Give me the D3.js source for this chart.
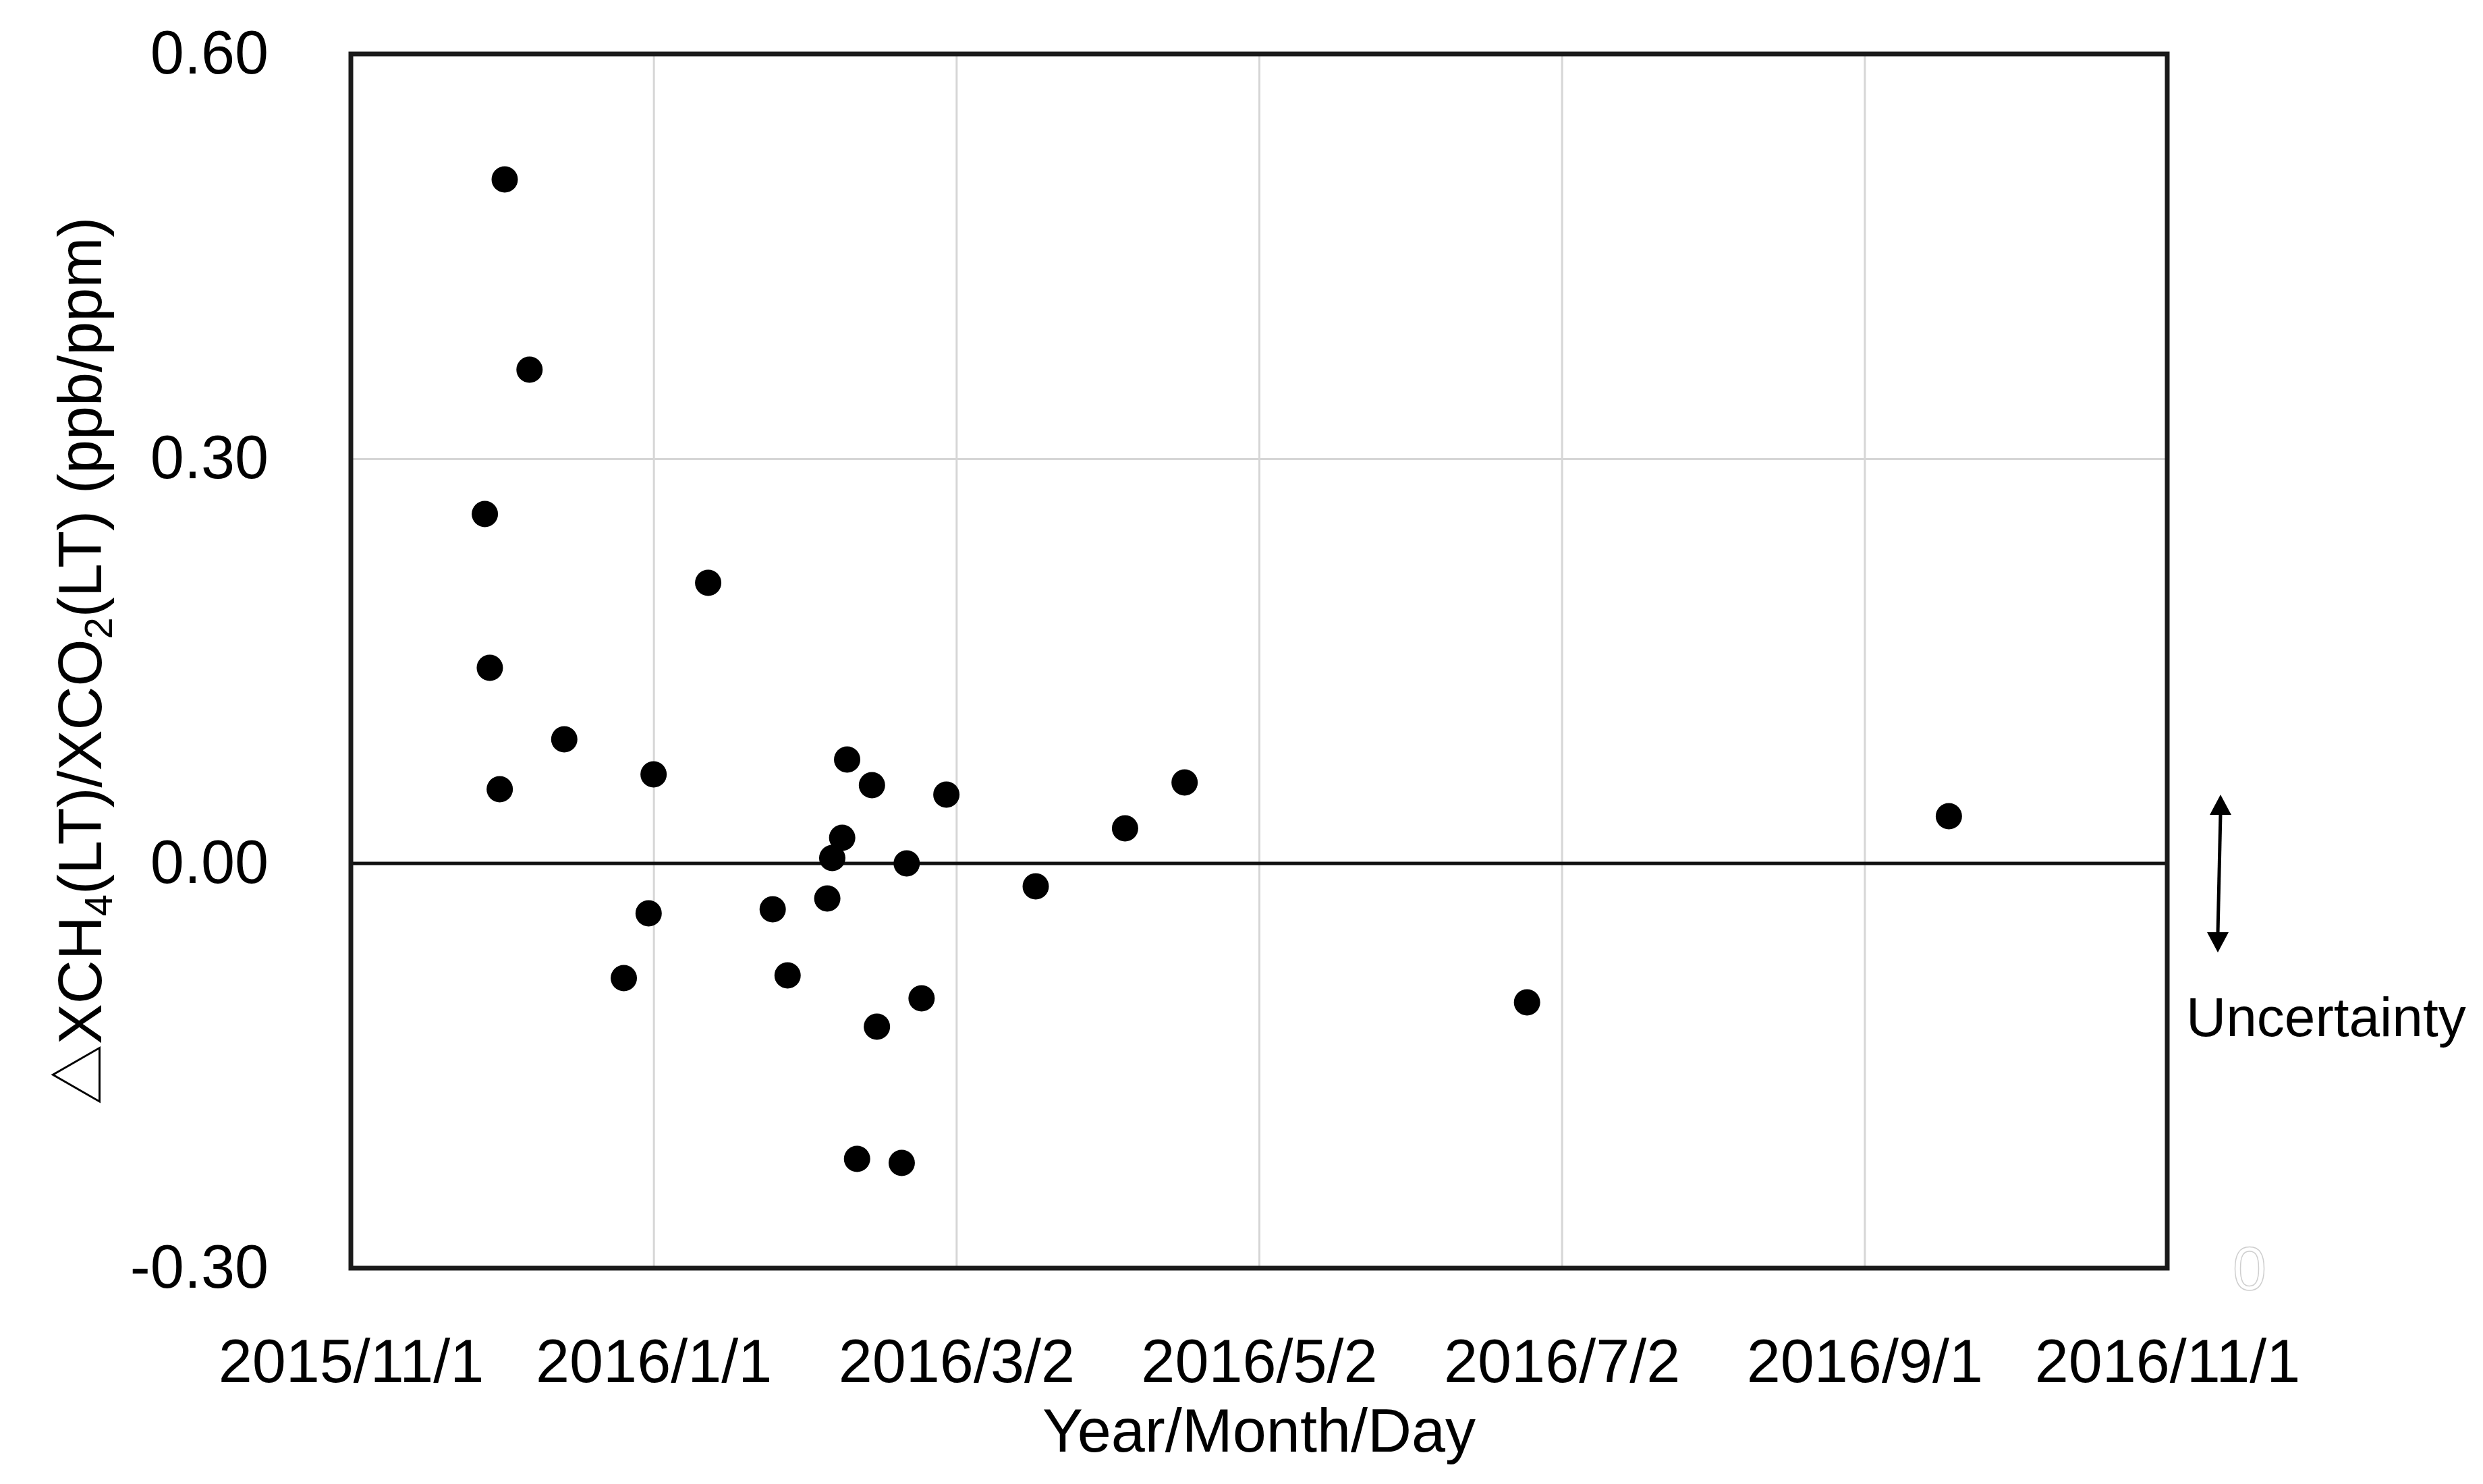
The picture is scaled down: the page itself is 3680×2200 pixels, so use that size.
<!DOCTYPE html>
<html>
<head>
<meta charset="utf-8">
<script src="https://cdnjs.cloudflare.com/ajax/libs/d3/7.8.5/d3.min.js"></script>
<style>
  body { margin: 0; background: #fff; }
  svg text { font-family: "Liberation Sans", Arial, sans-serif; fill: #000; }
</style>
</head>
<body>
<svg></svg>
<script>
var dates = ["2015-11-28","2015-11-29","2015-12-01","2015-12-02","2015-12-07","2015-12-14",
  "2015-12-26","2015-12-31","2016-01-01","2016-01-12","2016-01-25","2016-01-28",
  "2016-02-05","2016-02-06","2016-02-08","2016-02-09","2016-02-11","2016-02-14",
  "2016-02-15","2016-02-20","2016-02-21","2016-02-24","2016-02-29","2016-03-18",
  "2016-04-05","2016-04-17","2016-06-25","2016-09-18"];
var ratios = [0.259, 0.145, 0.055, 0.507, 0.366, 0.092,
  -0.085, -0.037, 0.066, 0.208, -0.034, -0.083,
  -0.026, 0.004, 0.019, 0.077, -0.219, 0.058,
  -0.121, -0.222, 0.000, -0.100, 0.051, -0.017,
  0.026, 0.060, -0.103, 0.035];

var xTicks = ["2015-11-01","2016-01-01","2016-03-02","2016-05-02","2016-07-02","2016-09-01","2016-11-01"];
var yTicks = [-0.30, 0.00, 0.30, 0.60];
var uncertainty = [0.051, -0.066];

var width = 3680, height = 2200;
// plot box (window.top is read-only, so no bare "top" here)
var plotL = 520, plotR = 3212, plotT = 80, plotB = 1880;

var parse = d3.utcParse("%Y-%m-%d");
var fmt = d3.utcFormat("%Y/%-m/%-d");

var svg = d3.select("svg")
  .attr("width", width)
  .attr("height", height);

var x = d3.scaleUtc()
  .domain([parse(xTicks[0]), parse(xTicks[xTicks.length - 1])])
  .range([plotL, plotR]);

var y = d3.scaleLinear()
  .domain([yTicks[0], yTicks[yTicks.length - 1]])
  .range([plotB, plotT]);

var points = dates.map(function(d, i) { return {date: parse(d), value: ratios[i]}; });

// gridlines
svg.append("g")
  .attr("transform", "translate(0," + plotB + ")")
  .call(d3.axisBottom(x).tickValues(xTicks.map(parse)).tickSize(-(plotB - plotT)).tickFormat(""))
  .call(function(g) { g.select(".domain").remove(); })
  .selectAll("line").attr("stroke", "#d6d6d6").attr("stroke-width", 3);

svg.append("g")
  .attr("transform", "translate(" + plotL + ",0)")
  .call(d3.axisLeft(y).tickValues(yTicks).tickSize(-(plotR - plotL)).tickFormat(""))
  .call(function(g) { g.select(".domain").remove(); })
  .selectAll("line").attr("stroke", "#d6d6d6").attr("stroke-width", 3);

// zero line
svg.append("line")
  .attr("x1", plotL).attr("x2", plotR)
  .attr("y1", y(0)).attr("y2", y(0))
  .attr("stroke", "#111").attr("stroke-width", 5);

// tick labels
var xAxis = svg.append("g")
  .attr("transform", "translate(0," + plotB + ")")
  .call(d3.axisBottom(x).tickValues(xTicks.map(parse)).tickSize(0).tickPadding(105).tickFormat(fmt));
xAxis.select(".domain").remove();
xAxis.selectAll("text").attr("font-size", 90).attr("font-family", null);

var yAxis = svg.append("g")
  .attr("transform", "translate(" + plotL + ",0)")
  .call(d3.axisLeft(y).tickValues(yTicks).tickSize(0).tickPadding(122)
    .tickFormat(function(d) { return d.toFixed(2); }));
yAxis.select(".domain").remove();
yAxis.selectAll("text").attr("font-size", 90).attr("font-family", null);

// points
svg.append("g")
  .selectAll("circle")
  .data(points)
  .enter().append("circle")
  .attr("cx", function(d) { return x(d.date); })
  .attr("cy", function(d) { return y(d.value); })
  .attr("r", 19.5)
  .attr("fill", "#000");

// frame
svg.append("rect")
  .attr("x", plotL).attr("y", plotT)
  .attr("width", plotR - plotL).attr("height", plotB - plotT)
  .attr("fill", "none").attr("stroke", "#1a1a1a").attr("stroke-width", 7);

// axis titles
svg.append("text")
  .attr("x", (plotL + plotR) / 2).attr("y", 2152)
  .attr("text-anchor", "middle").attr("font-size", 90)
  .text("Year/Month/Day");

var yt = svg.append("text")
  .attr("transform", "translate(150," + (plotT + plotB) / 2 + ") rotate(-90)")
  .attr("text-anchor", "middle").attr("font-size", 90);
yt.append("tspan").style("font-family", "'Noto Sans CJK JP'").attr("font-weight", 300).text("\u25B3");
yt.append("tspan").text("XCH");
yt.append("tspan").attr("font-size", 58).attr("dy", 16).text("4");
yt.append("tspan").attr("dy", -16).text("(LT)/XCO");
yt.append("tspan").attr("font-size", 58).attr("dy", 16).text("2");
yt.append("tspan").attr("dy", -16).text("(LT) (ppb/ppm)");

// uncertainty marker: double arrow spanning the uncertainty range
var uxTop = 3291, uxBot = 3287, head = 30, headW = 16;
var yUp = y(uncertainty[0]), yDn = y(uncertainty[1]);
svg.append("line")
  .attr("x1", uxTop).attr("y1", yUp + head - 2)
  .attr("x2", uxBot).attr("y2", yDn - head + 2)
  .attr("stroke", "#000").attr("stroke-width", 5);
svg.append("path")
  .attr("d", "M" + uxTop + "," + yUp + "L" + (uxTop + headW) + "," + (yUp + head) +
    "L" + (uxTop - headW) + "," + (yUp + head) + "Z")
  .attr("fill", "#000");
svg.append("path")
  .attr("d", "M" + uxBot + "," + yDn + "L" + (uxBot + headW) + "," + (yDn - head) +
    "L" + (uxBot - headW) + "," + (yDn - head) + "Z")
  .attr("fill", "#000");

svg.append("text")
  .attr("x", 3240).attr("y", 1536)
  .attr("font-size", 82)
  .text("Uncertainty");

// faint secondary label
svg.append("text")
  .attr("x", 3334).attr("y", plotB)
  .attr("dy", "0.35em")
  .attr("text-anchor", "middle").attr("font-size", 90)
  .style("fill", "#fff").attr("stroke", "#cfcfcf").attr("stroke-width", 1.5)
  .text("0");
</script>
</body>
</html>
